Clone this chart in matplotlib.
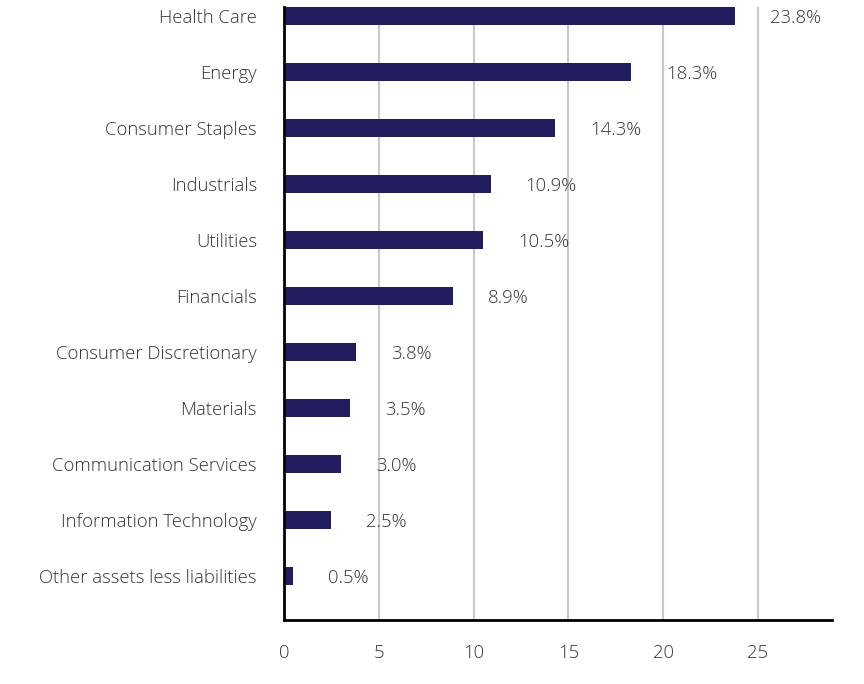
import matplotlib
matplotlib.use("Agg")
import matplotlib.pyplot as plt

categories = ["Other assets less liabilities", "Information Technology", "Communication Services",
              "Materials", "Consumer Discretionary", "Financials", "Utilities", "Industrials",
              "Consumer Staples", "Energy", "Health Care"]
values = [0.5, 2.5, 3.0, 3.5, 3.8, 8.9, 10.5, 10.9, 14.3, 18.3, 23.8]
labels = ["0.5%", "2.5%", "3.0%", "3.5%", "3.8%", "8.9%", "10.5%", "10.9%", "14.3%", "18.3%", "23.8%"]
xticks = [0, 5, 10, 15, 20, 25]

plt.rcParams['font.family'] = ['Open Sans', 'DejaVu Sans']
txt = '#333333'
fs = 13.3

fig = plt.figure(figsize=(8.64, 6.84), dpi=100)
ax = fig.add_axes([284/864, 1 - 620/684, (832-284)/864, (620-7)/684])
y = list(range(len(categories)))
ax.barh(y, values, height=0.32, color='#211d5e', zorder=3)
ax.set_xlim(0, 28.9)
ax.set_ylim(-0.786, 10.16)
ax.set_xticks(xticks)
ax.set_xticklabels([str(t) for t in xticks])
ax.set_yticks(y)
ax.set_yticklabels(categories)
ax.tick_params(axis='both', length=0, labelsize=fs, colors=txt, labelcolor=txt)
ax.tick_params(axis='x', pad=17)
ax.tick_params(axis='y', pad=19.5)
for lab in ax.get_xticklabels() + ax.get_yticklabels():
    lab.set_fontweight('light')
ax.grid(axis='x', color='#c8c8c8', linewidth=1.5, zorder=0)
ax.grid(axis='y', visible=False)
for s in ['top', 'right']:
    ax.spines[s].set_visible(False)
for s in ['left', 'bottom']:
    ax.spines[s].set_color('black')
    ax.spines[s].set_linewidth(2)
    ax.spines[s].set_zorder(4)

from matplotlib.transforms import offset_copy
tr = offset_copy(ax.transData, fig=fig, x=35, y=0, units='dots')
for yi, v, l in zip(y, values, labels):
    ax.text(v, yi, l, transform=tr, ha='left', va='center_baseline', fontsize=fs, color=txt,
            fontweight='light', zorder=5)

fig.savefig('out.png', dpi=100)
